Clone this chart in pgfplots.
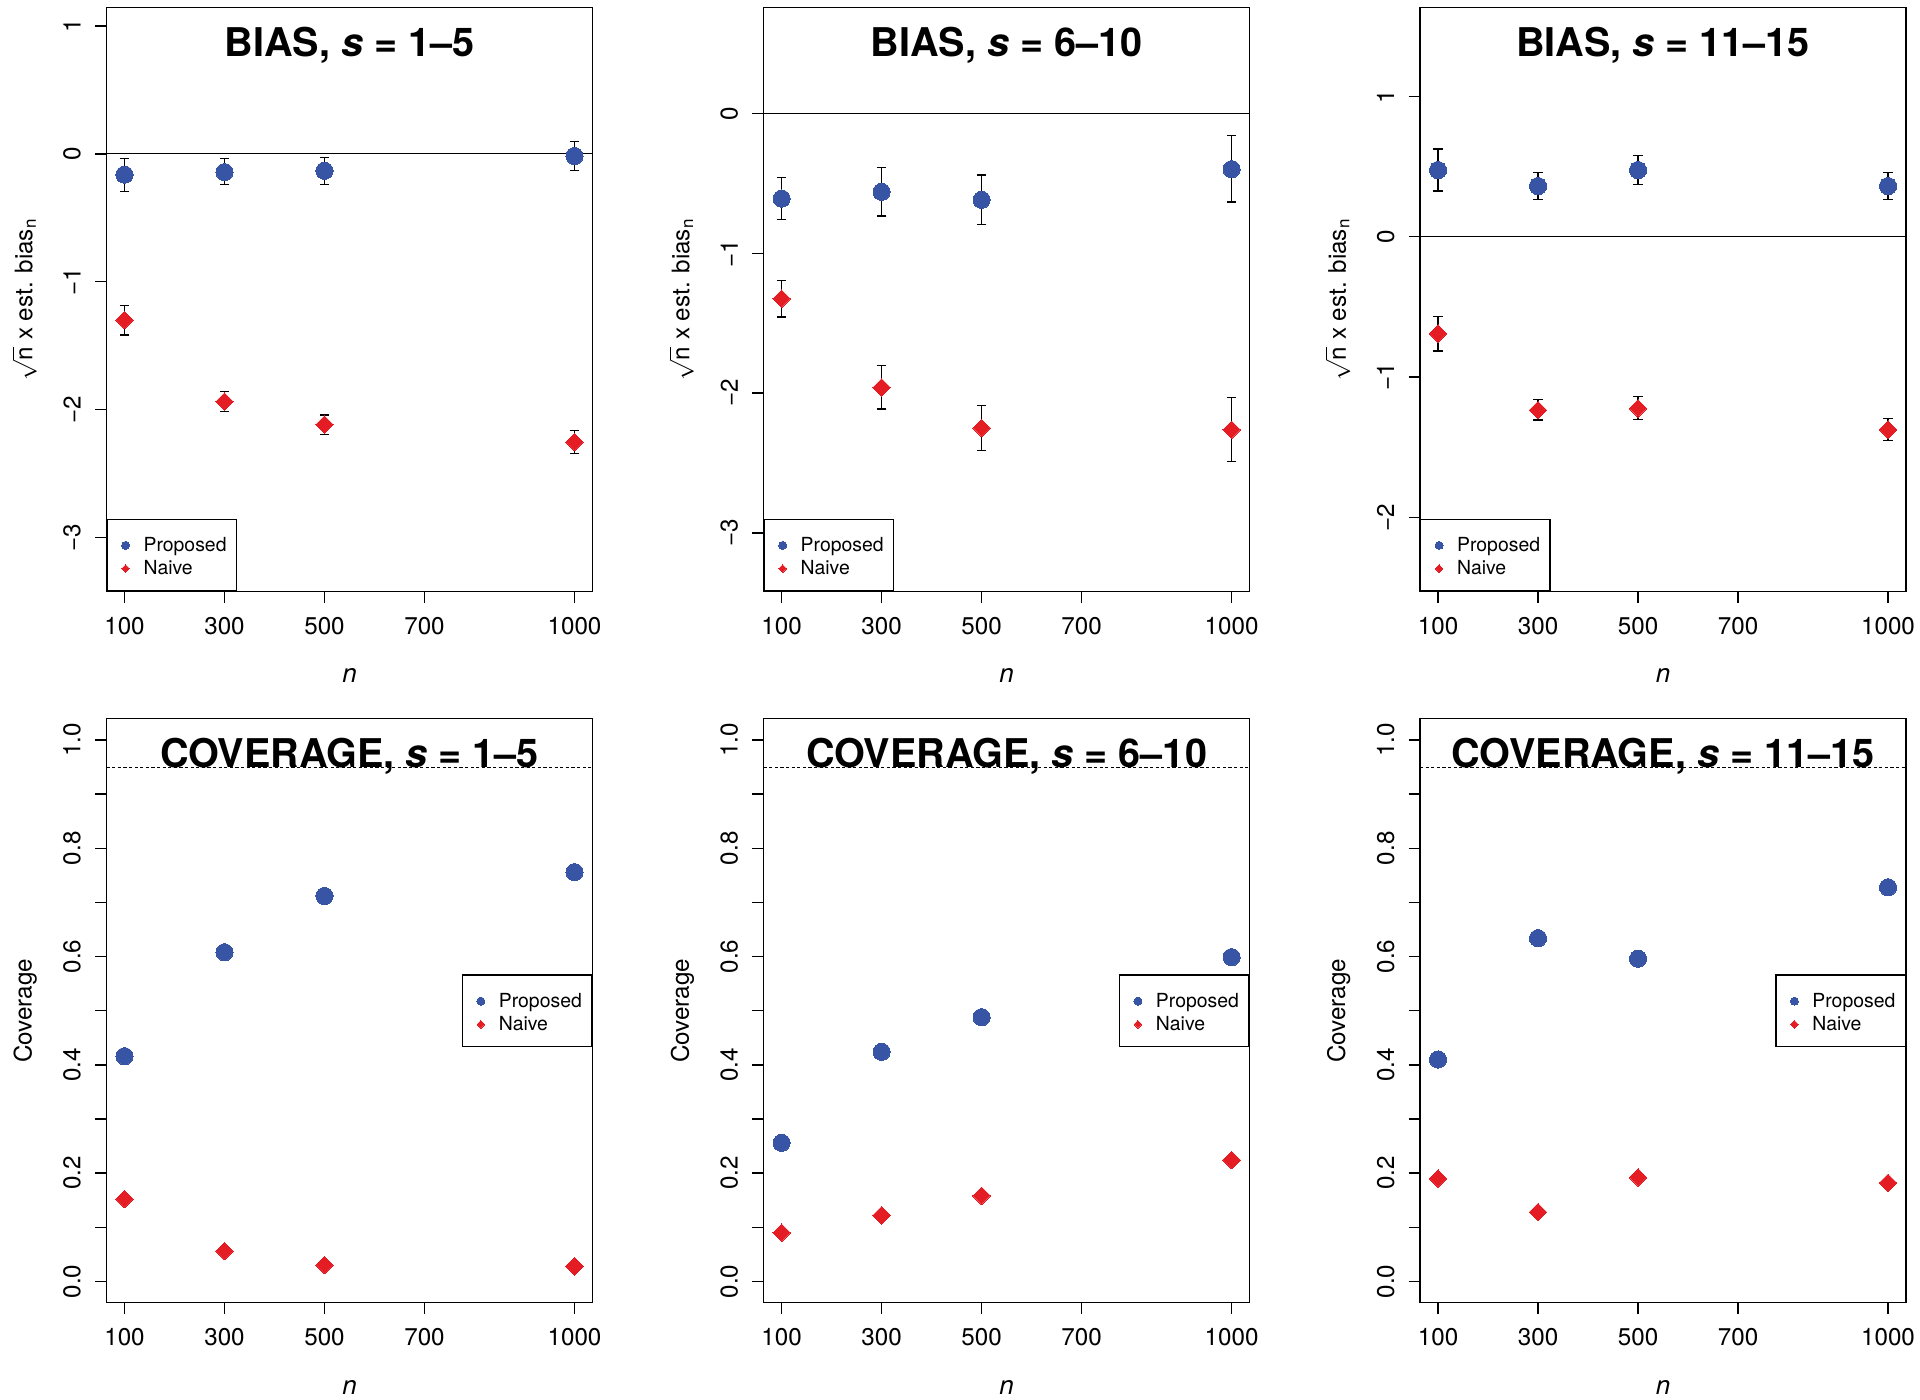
\documentclass[border=0pt]{standalone}
\usepackage{fontspec}
\setmainfont{TeX Gyre Heros}
\usepackage{pgfplots}
\pgfplotsset{compat=1.18}
\usepackage{pgfplotstable}
\definecolor{pblue}{RGB}{56,84,164}
\definecolor{nred}{RGB}{228,28,36}

% bias tables: n, estimate, error plus, error minus
\pgfplotstableread{
n y ep em
100 -0.163 0.125 0.133
300 -0.143 0.105 0.097
500 -0.132 0.101 0.105
1000 -0.017 0.111 0.115
}\biasAp
\pgfplotstableread{
n y ep em
100 -1.300 0.114 0.116
300 -1.937 0.076 0.077
500 -2.118 0.076 0.077
1000 -2.254 0.091 0.087
}\biasAn
\pgfplotstableread{
n y ep em
100 -0.608 0.153 0.149
300 -0.560 0.175 0.172
500 -0.617 0.178 0.175
1000 -0.398 0.242 0.235
}\biasBp
\pgfplotstableread{
n y ep em
100 -1.324 0.128 0.130
300 -1.960 0.156 0.153
500 -2.249 0.162 0.160
1000 -2.262 0.229 0.226
}\biasBn
\pgfplotstableread{
n y ep em
100 0.475 0.149 0.149
300 0.361 0.095 0.095
500 0.475 0.102 0.101
1000 0.361 0.098 0.098
}\biasCp
\pgfplotstableread{
n y ep em
100 -0.691 0.124 0.123
300 -1.235 0.073 0.070
500 -1.223 0.083 0.079
1000 -1.375 0.079 0.076
}\biasCn
% coverage tables
\pgfplotstableread{
n p q
100 0.416 0.152
300 0.608 0.056
500 0.712 0.030
1000 0.756 0.028
}\covA
\pgfplotstableread{
n p q
100 0.256 0.090
300 0.424 0.122
500 0.488 0.158
1000 0.599 0.224
}\covB
\pgfplotstableread{
n p q
100 0.410 0.190
300 0.634 0.128
500 0.596 0.192
1000 0.728 0.182
}\covC

\tikzset{ttl/.style={font=\fontsize{19.8}{22}\selectfont\bfseries, anchor=base, yshift=-24.4pt}}

\pgfplotsset{
  panel/.style={
    scale only axis, width=243pt, height=292pt, anchor=north west,
    clip=false,
    xmin=64, xmax=1036,
    xtick={100,300,500,700,1000}, xticklabels={100,300,500,700,1000},
    xtick pos=left, ytick pos=left,
    tick align=outside, major tick length=5.7pt,
    axis line style={line width=0.7pt},
    every tick/.style={black, line width=0.7pt},
    tick label style={font=\fontsize{12.1}{14}\selectfont, anchor=center},
    yticklabel style={rotate=90},
    xticklabel shift=11.5pt, yticklabel shift=11.5pt,
    xlabel={n},
    xlabel style={at={([yshift=-42.3pt]axis description cs:0.5,0)}, anchor=center,
      font=\fontsize{13}{15}\selectfont\itshape},
    ylabel style={at={([xshift=-40.6pt]axis description cs:0,0.5)}, anchor=center,
      inner sep=0pt, font=\fontsize{12.1}{14}\selectfont},
    legend cell align=left,
    legend style={draw=black, line width=0.7pt, fill=white,
      inner xsep=0pt, inner ysep=6.5pt, row sep=0.55pt, column sep=0pt,
      font=\fontsize{9.7}{11}\selectfont,
      nodes={inner sep=0pt, text height=9.5pt, text depth=1.55pt}},
  },
  biaslegend/.style={legend style={at={(0,0)}, anchor=south west}},
  covlegend/.style={legend style={at={(1,0.5)}, anchor=east}},
  biasy/.style={ylabel={\smash{$\sqrt{\mbox{n}}$} x est. bias\textsubscript{n}}},
  covy/.style={ymin=-0.0394, ymax=1.0394,
    ytick={0,0.1,0.2,0.3,0.4,0.5,0.6,0.7,0.8,0.9,1},
    yticklabels={0.0,,0.2,,0.4,,0.6,,0.8,,1.0},
    ylabel={Coverage}},
  prop/.style={only marks, mark=*, mark size=4.3pt, color=pblue,
    mark options={draw=pblue, fill=pblue, line width=0pt},
    legend image code/.code={
      \path[draw=none, fill=none] (-9.2pt,0pt) -- (9pt,0pt);
      \path[draw=none, fill=none, mark=*, mark size=2pt, mark options={fill=pblue, draw=pblue, line width=0pt}] plot coordinates {(0pt,-1pt)};}},
  naive/.style={only marks, mark=square*, mark size=3.1pt, color=nred,
    mark options={draw=nred, fill=nred, rotate=45, line width=0pt},
    legend image code/.code={
      \path[draw=none, fill=none] (-9.2pt,0pt) -- (9pt,0pt);
      \path[draw=none, fill=none, mark=square*, mark size=1.35pt, mark options={fill=nred, draw=nred, rotate=45, line width=0pt}] plot coordinates {(0pt,-1pt)};}},
  ebar/.style={forget plot, draw=none,
    error bars/.cd, y dir=both, y explicit, error mark=-,
    error bar style={draw=black, line width=0.65pt, solid},
    error mark options={draw=black, line width=0.65pt, mark size=2.4pt, rotate=90}},
  zeroline/.style={forget plot, black, line width=0.55pt, mark=none},
  covline/.style={forget plot, black, line width=0.5pt, dash pattern=on 1.6pt off 1.2pt, mark=none},
}

\begin{document}
\begin{tikzpicture}
\path[use as bounding box] (0pt,0pt) rectangle (960pt,-699.5pt);

% ---------------- Row 1: BIAS ----------------
\begin{axis}[panel, biaslegend, biasy, at={(53.25pt,-3.65pt)},
  ymin=-3.421, ymax=1.146, ytick={-3,-2,-1,0,1}, yticklabels={−3,−2,−1,0,1}]
\node[ttl] at (rel axis cs:0.5,1) {BIAS, \textit{s} = 1–5};
\addplot[zeroline] coordinates {(64,0) (1036,0)};
\addplot[prop] table[x=n, y=y] {\biasAp}; \addlegendentry{Proposed\kern5pt}
\addplot[naive] table[x=n, y=y] {\biasAn}; \addlegendentry{Naive}
\addplot[ebar] table[x=n, y=y, y error plus=ep, y error minus=em] {\biasAp};
\addplot[ebar] table[x=n, y=y, y error plus=ep, y error minus=em] {\biasAn};
\end{axis}

\begin{axis}[panel, biaslegend, biasy, at={(381.8pt,-3.65pt)},
  ymin=-3.417, ymax=0.760, ytick={-3,-2,-1,0}, yticklabels={−3,−2,−1,0}]
\node[ttl] at (rel axis cs:0.5,1) {BIAS, \textit{s} = 6–10};
\addplot[zeroline] coordinates {(64,0) (1036,0)};
\addplot[prop] table[x=n, y=y] {\biasBp}; \addlegendentry{Proposed\kern5pt}
\addplot[naive] table[x=n, y=y] {\biasBn}; \addlegendentry{Naive}
\addplot[ebar] table[x=n, y=y, y error plus=ep, y error minus=em] {\biasBp};
\addplot[ebar] table[x=n, y=y, y error plus=ep, y error minus=em] {\biasBn};
\end{axis}

\begin{axis}[panel, biaslegend, biasy, at={(710pt,-3.65pt)},
  ymin=-2.526, ymax=1.634, ytick={-2,-1,0,1}, yticklabels={−2,−1,0,1}]
\node[ttl] at (rel axis cs:0.5,1) {BIAS, \textit{s} = 11–15};
\addplot[zeroline] coordinates {(64,0) (1036,0)};
\addplot[prop] table[x=n, y=y] {\biasCp}; \addlegendentry{Proposed\kern5pt}
\addplot[naive] table[x=n, y=y] {\biasCn}; \addlegendentry{Naive}
\addplot[ebar] table[x=n, y=y, y error plus=ep, y error minus=em] {\biasCp};
\addplot[ebar] table[x=n, y=y, y error plus=ep, y error minus=em] {\biasCn};
\end{axis}

% ---------------- Row 2: COVERAGE ----------------
\begin{axis}[panel, covlegend, covy, at={(53.25pt,-359.35pt)}]
\node[ttl] at (rel axis cs:0.5,1) {COVERAGE, \textit{s} = 1–5};
\addplot[covline] coordinates {(64,0.95) (1036,0.95)};
\addplot[prop] table[x=n, y=p] {\covA}; \addlegendentry{Proposed\kern5pt}
\addplot[naive] table[x=n, y=q] {\covA}; \addlegendentry{Naive}
\end{axis}

\begin{axis}[panel, covlegend, covy, at={(381.8pt,-359.35pt)}]
\node[ttl] at (rel axis cs:0.5,1) {COVERAGE, \textit{s} = 6–10};
\addplot[covline] coordinates {(64,0.95) (1036,0.95)};
\addplot[prop] table[x=n, y=p] {\covB}; \addlegendentry{Proposed\kern5pt}
\addplot[naive] table[x=n, y=q] {\covB}; \addlegendentry{Naive}
\end{axis}

\begin{axis}[panel, covlegend, covy, at={(710pt,-359.35pt)}]
\node[ttl] at (rel axis cs:0.5,1) {COVERAGE, \textit{s} = 11–15};
\addplot[covline] coordinates {(64,0.95) (1036,0.95)};
\addplot[prop] table[x=n, y=p] {\covC}; \addlegendentry{Proposed\kern5pt}
\addplot[naive] table[x=n, y=q] {\covC}; \addlegendentry{Naive}
\end{axis}
\end{tikzpicture}
\end{document}
